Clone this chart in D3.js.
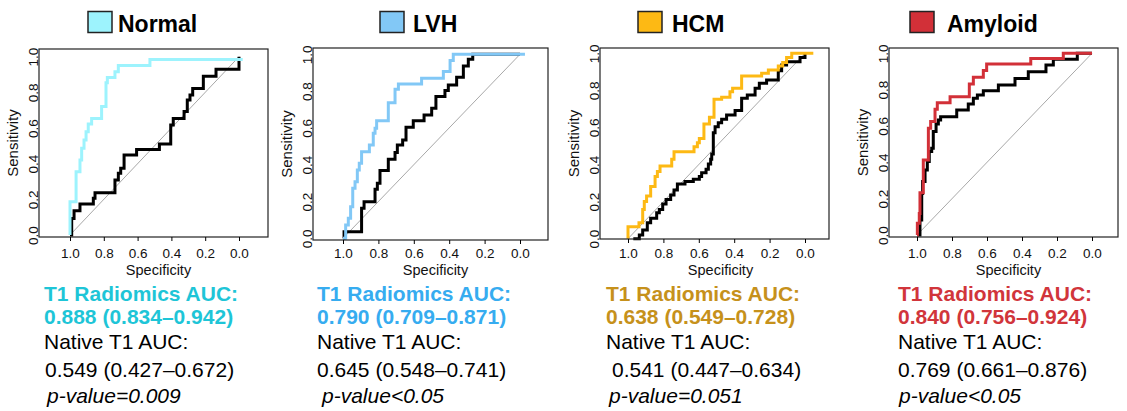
<!DOCTYPE html>
<html>
<head>
<meta charset="utf-8">
<script src="https://cdn.jsdelivr.net/npm/d3@7"></script>
<style>
  body { margin: 0; background: #fff; }
  svg { display: block; font-family: "Liberation Sans", Arial, sans-serif; }
</style>
</head>
<body>
<svg id="chart"></svg>
<script>
// Data: [specificity, sensitivity] step points.
var groups = ["Normal", "LVH", "HCM", "Amyloid"];
var xTicks = [1.0, 0.8, 0.6, 0.4, 0.2, 0.0];
var yTicks = [0.0, 0.2, 0.4, 0.6, 0.8, 1.0];

var normalRadiomics = [[1.0, 0], [1.0, 0.187], [0.964, 0.355], [0.941, 0.421], [0.931, 0.486], [0.917, 0.533],
  [0.905, 0.579], [0.892, 0.622], [0.872, 0.654], [0.813, 0.720], [0.787, 0.854], [0.779, 0.884],
  [0.734, 0.916], [0.714, 0.951], [0.527, 0.985], [-0.022, 0.985]];
var normalNative = [[1.0, 0], [0.990, 0.093], [0.976, 0.136], [0.941, 0.174], [0.862, 0.206], [0.852, 0.237],
  [0.734, 0.308], [0.714, 0.346], [0.700, 0.374], [0.680, 0.449], [0.606, 0.480], [0.471, 0.510],
  [0.404, 0.617], [0.389, 0.654], [0.325, 0.692], [0.306, 0.757], [0.290, 0.785], [0.274, 0.822],
  [0.211, 0.891], [0.136, 0.929], [0.0, 1.0]];

var lvhRadiomics = [[1.0, 0], [0.985, 0.072], [0.970, 0.109], [0.957, 0.172], [0.945, 0.272], [0.932, 0.308],
  [0.919, 0.371], [0.908, 0.408], [0.895, 0.471], [0.851, 0.507], [0.829, 0.571], [0.819, 0.598],
  [0.810, 0.639], [0.744, 0.737], [0.706, 0.810], [0.687, 0.839], [0.556, 0.870], [0.433, 0.906],
  [0.395, 0.966], [0.377, 1.0], [-0.028, 1.0]];
var lvhNative = [[1.0, 0], [0.994, 0.036], [0.895, 0.163], [0.881, 0.199], [0.819, 0.266], [0.806, 0.299],
  [0.791, 0.368], [0.744, 0.429], [0.706, 0.466], [0.693, 0.507], [0.663, 0.534], [0.644, 0.603],
  [0.603, 0.639], [0.542, 0.670], [0.499, 0.707], [0.475, 0.770], [0.424, 0.803], [0.405, 0.833],
  [0.358, 0.875], [0.320, 0.937], [0.292, 0.973], [0.267, 1.0], [0.0, 1.0]];

var hcmRadiomics = [[1.0, 0], [1.0, 0.065], [0.938, 0.086], [0.917, 0.158], [0.908, 0.200], [0.895, 0.230],
  [0.872, 0.281], [0.847, 0.335], [0.834, 0.362], [0.819, 0.392], [0.753, 0.428], [0.740, 0.469],
  [0.627, 0.496], [0.608, 0.518], [0.597, 0.541], [0.571, 0.619], [0.540, 0.655], [0.514, 0.752],
  [0.471, 0.763], [0.424, 0.793], [0.409, 0.811], [0.358, 0.878], [0.245, 0.892], [0.207, 0.910],
  [0.151, 0.932], [0.126, 0.950], [0.104, 0.978], [0.075, 1.0], [-0.047, 1.0]];
var hcmNative = [[0.970, 0], [0.936, 0.020], [0.917, 0.047], [0.891, 0.086], [0.872, 0.110], [0.838, 0.140],
  [0.823, 0.158], [0.804, 0.187], [0.785, 0.212], [0.759, 0.236], [0.740, 0.263], [0.721, 0.295],
  [0.678, 0.308], [0.631, 0.320], [0.597, 0.335], [0.584, 0.356], [0.559, 0.374], [0.546, 0.403],
  [0.533, 0.428], [0.527, 0.457], [0.518, 0.572], [0.508, 0.604], [0.490, 0.626], [0.471, 0.644],
  [0.443, 0.667], [0.395, 0.691], [0.358, 0.757], [0.326, 0.775], [0.282, 0.811], [0.258, 0.838],
  [0.217, 0.856], [0.151, 0.906], [0.132, 0.937], [0.104, 0.955], [0.028, 0.978], [0.0, 1.0]];

var amyloidRadiomics = [[1.0, 0], [0.998, 0.064], [0.987, 0.119], [0.983, 0.233], [0.964, 0.413], [0.935, 0.587],
  [0.922, 0.624], [0.897, 0.692], [0.884, 0.728], [0.811, 0.761], [0.701, 0.831], [0.678, 0.868],
  [0.621, 0.905], [0.602, 0.941], [0.350, 0.972], [0.164, 1.0], [0.0, 1.0]];
var amyloidNative = [[1.0, 0], [0.983, 0.083], [0.973, 0.229], [0.968, 0.294], [0.954, 0.358], [0.941, 0.404],
  [0.930, 0.459], [0.916, 0.477], [0.907, 0.569], [0.891, 0.611], [0.878, 0.633], [0.865, 0.651],
  [0.773, 0.688], [0.707, 0.721], [0.678, 0.752], [0.655, 0.771], [0.621, 0.794], [0.535, 0.826],
  [0.440, 0.862], [0.364, 0.899], [0.263, 0.936], [0.221, 0.967], [0.084, 1.0], [0.0, 1.0]];

var radiomicsCurves = [normalRadiomics, lvhRadiomics, hcmRadiomics, amyloidRadiomics];
var nativeCurves = [normalNative, lvhNative, hcmNative, amyloidNative];

var radiomicsAUC = ["0.888 (0.834\u20130.942)", "0.790 (0.709\u20130.871)", "0.638 (0.549\u20130.728)", "0.840 (0.756\u20130.924)"];
var nativeAUC = ["0.549 (0.427\u20130.672)", "0.645 (0.548\u20130.741)", "0.541 (0.447\u20130.634)", "0.769 (0.661\u20130.876)"];
var pValues = ["p-value=0.009", "p-value<0.05", "p-value=0.051", "p-value<0.05"];

// Styles.
var curveColors = ["#9df3fd", "#82c8f6", "#fdb914", "#d23038"];
var textColors = ["#1ec5d7", "#36acf0", "#c6911b", "#d1353b"];

// Layout of each panel (pixels).
var panels = [
  { box: [39, 49, 268, 237], xr: [70, 239], yr: [235, 56.7], swatchX: 88, titleX: 118, textX: 44, line4X: 45, pX: 47 },
  { box: [313, 48, 548, 240], xr: [343, 520], yr: [238.3, 54.3], swatchX: 380, titleX: 413, textX: 317, line4X: 317, pX: 322 },
  { box: [600, 48, 829, 239], xr: [628, 805], yr: [238.7, 53.3], swatchX: 638, titleX: 672, textX: 606, line4X: 612, pX: 609 },
  { box: [889, 48, 1118, 237], xr: [917, 1092], yr: [235, 53.3], swatchX: 910, titleX: 947, textX: 898, line4X: 898, pX: 899 }
];

var tickBaseline = 258.5;

var svg = d3.select("#chart")
  .attr("width", 1127)
  .attr("height", 411);

panels.forEach(function(p, i) {
  var x = d3.scaleLinear().domain([1, 0]).range(p.xr);
  var y = d3.scaleLinear().domain([0, 1]).range(p.yr);
  var g = svg.append("g");

  // Title with colour swatch.
  g.append("rect")
    .attr("x", p.swatchX).attr("y", 11.5)
    .attr("width", 24).attr("height", 21)
    .attr("fill", curveColors[i])
    .attr("stroke", "#222").attr("stroke-width", 1.5);
  g.append("text")
    .attr("x", p.titleX).attr("y", 32)
    .attr("font-size", "23px").attr("font-weight", "bold")
    .text(groups[i]);

  // Chance diagonal.
  g.append("line")
    .attr("x1", x(1)).attr("y1", y(0))
    .attr("x2", x(0)).attr("y2", y(1))
    .attr("stroke", "#a8a8a8").attr("stroke-width", 1);

  // ROC curves: native T1 first, radiomics on top.
  var line = d3.line()
    .x(function(d) { return x(d[0]); })
    .y(function(d) { return y(d[1]); })
    .curve(d3.curveStepAfter);

  g.append("path")
    .attr("d", line(nativeCurves[i]))
    .attr("fill", "none").attr("stroke", "#000").attr("stroke-width", 3);
  g.append("path")
    .attr("d", line(radiomicsCurves[i]))
    .attr("fill", "none").attr("stroke", curveColors[i]).attr("stroke-width", 3);

  // Plot box.
  g.append("rect")
    .attr("x", p.box[0]).attr("y", p.box[1])
    .attr("width", p.box[2] - p.box[0]).attr("height", p.box[3] - p.box[1])
    .attr("fill", "none").attr("stroke", "#222").attr("stroke-width", 1.2);

  // Axes.
  var pad = tickBaseline - 9.6 - 4 - p.box[3];
  var xAxis = g.append("g")
    .attr("transform", `translate(0, ${p.box[3]})`)
    .call(d3.axisBottom(x).tickValues(xTicks).tickSize(4).tickPadding(pad).tickFormat(d3.format(".1f")));
  xAxis.select(".domain").remove();
  xAxis.selectAll("text").attr("font-size", "13.5px").attr("font-family", "Liberation Sans, Arial, sans-serif").attr("fill", "#111");

  var yAxis = g.append("g")
    .attr("transform", `translate(${p.box[0]}, 0)`)
    .call(d3.axisLeft(y).tickValues(yTicks).tickSize(0).tickFormat(d3.format(".1f")));
  yAxis.select(".domain").remove();
  yAxis.selectAll("text")
    .attr("transform", "rotate(-90)")
    .attr("x", 0).attr("y", -1.5).attr("dy", 0)
    .attr("text-anchor", "middle")
    .attr("font-size", "13.5px").attr("font-family", "Liberation Sans, Arial, sans-serif").attr("fill", "#111");

  // Axis titles.
  g.append("text")
    .attr("x", (p.xr[0] + p.xr[1]) / 2 + 4).attr("y", 275)
    .attr("text-anchor", "middle").attr("font-size", "14.5px").attr("fill", "#111")
    .text("Specificity");
  g.append("text")
    .attr("transform", `translate(${p.box[0] - 21}, ${(p.box[1] + p.box[3]) / 2}) rotate(-90)`)
    .attr("text-anchor", "middle").attr("font-size", "15px").attr("fill", "#111")
    .text("Sensitivity");

  // AUC text block.
  g.append("text")
    .attr("x", p.textX).attr("y", 301)
    .attr("font-size", "21px").attr("font-weight", "bold").attr("fill", textColors[i])
    .text("T1 Radiomics AUC:");
  g.append("text")
    .attr("x", p.textX).attr("y", 324)
    .attr("font-size", "21px").attr("font-weight", "bold").attr("fill", textColors[i])
    .text(radiomicsAUC[i]);
  g.append("text")
    .attr("x", p.textX).attr("y", 349)
    .attr("font-size", "21px").attr("fill", "#000")
    .text("Native T1 AUC:");
  g.append("text")
    .attr("x", p.line4X).attr("y", 377)
    .attr("font-size", "21px").attr("fill", "#000")
    .text(nativeAUC[i]);
  g.append("text")
    .attr("x", p.pX).attr("y", 402.5)
    .attr("font-size", "21px").attr("font-style", "italic").attr("fill", "#000")
    .text(pValues[i]);
});
</script>
</body>
</html>
